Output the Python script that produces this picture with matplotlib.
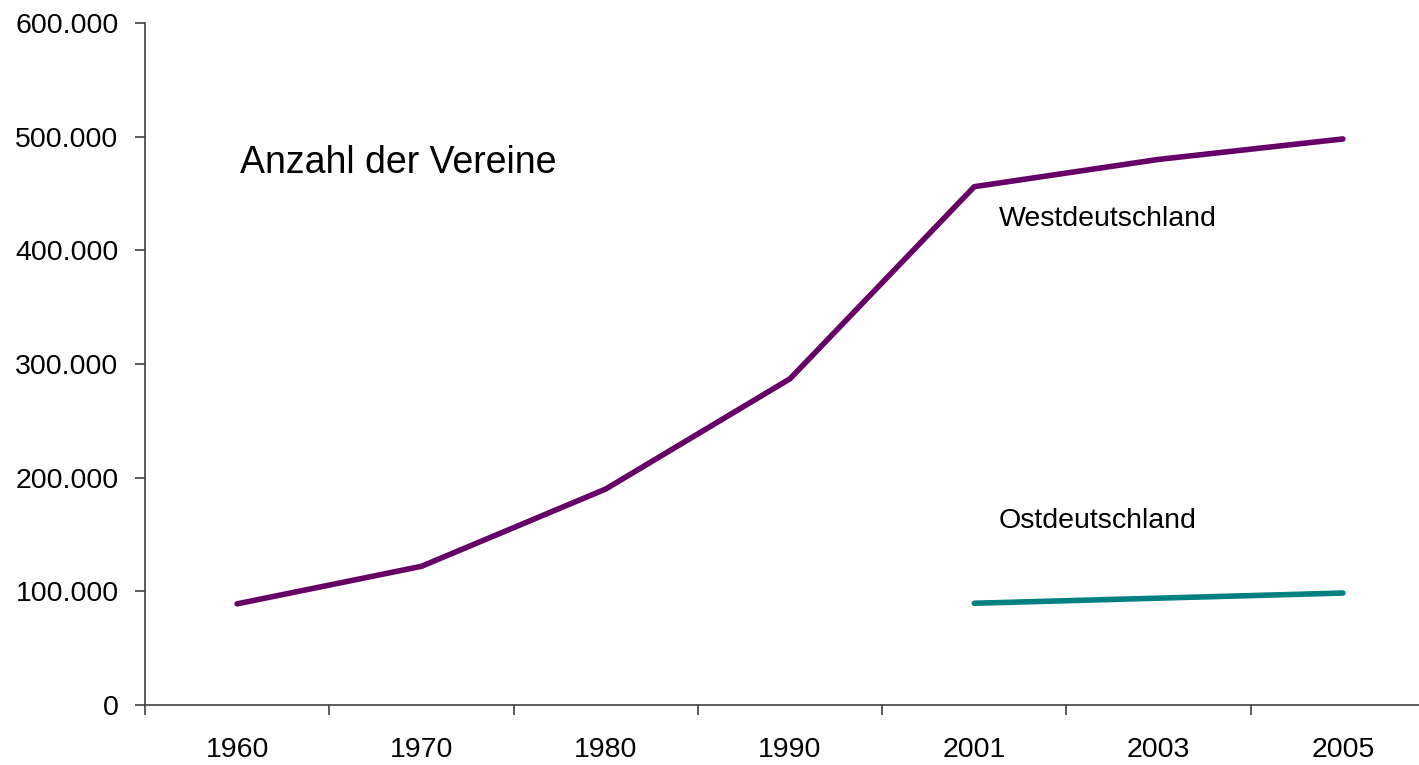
import matplotlib
matplotlib.use("Agg")
import matplotlib.pyplot as plt
from matplotlib.ticker import FuncFormatter, FixedLocator
import numpy as np

plt.rcParams['font.family'] = ['Liberation Sans', 'DejaVu Sans']

# data
years = ['1960', '1970', '1980', '1990', '2001', '2003', '2005']
west = [89000, 122000, 190000, 287000, 456000, 480000, 498000]
east_years = ['2001', '2003', '2005']
east = [89500, 94000, 98500]

x = np.arange(len(years))
x_east = np.array([years.index(y) for y in east_years])

fig = plt.figure(figsize=(14.19, 7.65), dpi=100)
ax = fig.add_axes([145 / 1419, 1 - 705 / 765, 1290 / 1419, 682 / 765])

ax.plot(x, west, color='#660066', lw=4, solid_capstyle='round')
ax.plot(x_east, east, color='#008080', lw=4, solid_capstyle='round')

ax.set_xlim(-0.5, len(years) - 0.5)
ax.set_ylim(0, 600000)

for s in ['top', 'right']:
    ax.spines[s].set_visible(False)
for s in ['left', 'bottom']:
    ax.spines[s].set_color('#404040')
    ax.spines[s].set_linewidth(1.2)

ax.set_xticks(x)
ax.set_xticklabels(years)
ax.xaxis.set_minor_locator(FixedLocator(np.arange(-0.5, len(years), 1.0)))
ax.tick_params(axis='x', which='major', length=0, pad=23, labelsize=20.5)
ax.tick_params(axis='x', which='minor', length=7, width=1.2, color='#404040', direction='out')

ax.set_yticks(np.arange(0, 600001, 100000))
ax.yaxis.set_major_formatter(FuncFormatter(lambda v, p: f'{int(v):,}'.replace(',', '.')))
ax.tick_params(axis='y', length=7, width=1.2, color='#404040', direction='out', pad=12, labelsize=20.5)

ax.text(0.015, 477000, 'Anzahl der Vereine', fontsize=27, va='center', ha='left')
ax.text(4.134, 428000, 'Westdeutschland', fontsize=20.5, va='center', ha='left')
ax.text(4.134, 162000, 'Ostdeutschland', fontsize=20.5, va='center', ha='left')

fig.savefig('out.png', dpi=100)
